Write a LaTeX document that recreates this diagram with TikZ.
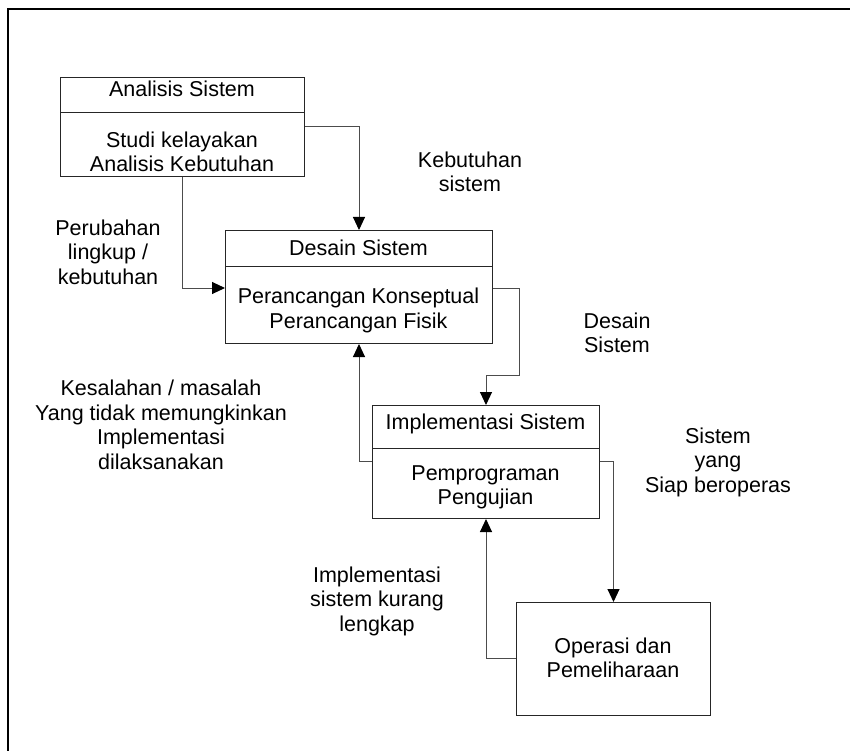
\documentclass[tikz,border=0pt]{standalone}
\usepackage{fontspec}
\setmainfont{Liberation Sans}
\usetikzlibrary{arrows.meta}
\begin{document}
\begin{tikzpicture}[x=1pt,y=-1pt,
  font=\fontsize{21.5}{24.5}\selectfont,
  box/.style={draw=black!85,line width=1pt,inner sep=0pt,anchor=north west,rectangle},
  txt/.style={inner sep=0pt,align=center,anchor=center},
  conn/.style={draw=black!70,line width=1pt},
  arr/.style={conn,-{Triangle[length=13pt,width=12pt,fill=black,color=black]}}]
\useasboundingbox (0,0) rectangle (850,751);
\fill[white] (0,0) rectangle (850,751);
% frame
\draw[line width=2.5pt,black] (8,751) -- (8,9) -- (851,9);
% boxes
\node[box,minimum width=244pt,minimum height=35pt] (h1) at (60,77) {};
\node[box,minimum width=244pt,minimum height=64pt] (b1) at (60,112) {};
\node[box,minimum width=267pt,minimum height=36pt] (h2) at (225,230) {};
\node[box,minimum width=267pt,minimum height=77pt] (b2) at (225,266) {};
\node[box,minimum width=227pt,minimum height=43pt] (h3) at (372,405) {};
\node[box,minimum width=227pt,minimum height=70pt] (b3) at (372,448) {};
\node[box,minimum width=194pt,minimum height=113pt] (op) at (516,602) {};
% box texts
\node[txt] (t1) at (182,89) {Analisis Sistem};
\node[txt] (t1b) at (182,152) {Studi kelayakan\\Analisis Kebutuhan};
\node[txt] (t2) at (358.5,248) {Desain Sistem};
\node[txt] (t2b) at (358.5,310.5) {Perancangan Konseptual\\Perancangan Fisik};
\node[txt] (t3) at (485.5,424) {Implementasi Sistem};
\node[txt] (t3b) at (485.5,487.5) {Pemprograman\\Pengujian};
\node[txt] (t4) at (613,658) {Operasi dan\\Pemeliharaan};
% labels
\node[txt] (l1) at (470,172) {Kebutuhan\\sistem};
\node[txt] (l2) at (108,252) {Perubahan\\lingkup /\\kebutuhan};
\node[txt] (l3) at (617,333) {Desain\\Sistem};
\node[txt] (l4) at (161,425) {Kesalahan / masalah\\Yang tidak memungkinkan\\Implementasi\\dilaksanakan};
\node[txt] (l5) at (718,462) {Sistem\\yang\\Siap beroperas};
\node[txt] (l6) at (377,601) {Implementasi\\sistem kurang\\lengkap};
% connectors
\draw[arr] (b1.east |- 0,127) -| (h2.north);
\draw[arr] (b1.south) |- (b2.west |- 0,288);
\draw[arr] (b2.east |- 0,288) -- (519,288) -- (519,375) -| (h3.north);
\draw[arr] (b3.west |- 0,461) -| (b2.south);
\draw[arr] (b3.east |- 0,461) -| (op.north);
\draw[arr] (op.west |- 0,658) -| (b3.south);
\end{tikzpicture}
\end{document}
